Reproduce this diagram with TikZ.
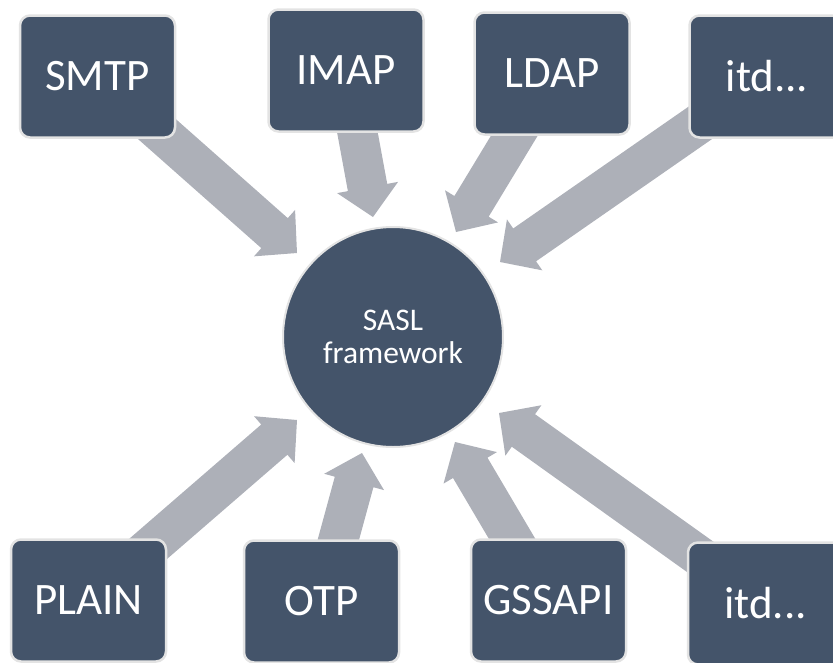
\documentclass[tikz,border=0pt]{standalone}
\usepackage{fontspec}
\setmainfont{Carlito}
\usetikzlibrary{calc}
\definecolor{boxfill}{HTML}{44546A}
\definecolor{boxline}{HTML}{E3E3E3}
\definecolor{arrowgray}{HTML}{ADB0B8}
\pgfdeclarelayer{bg}
\pgfsetlayers{bg,main}
\newcommand\blockarr[2]{%
  \path ($(#2)!30pt!(#1.center)$) coordinate (hb);
  \fill[arrowgray] ($(#1.center)!20pt!90:(#2)$) -- ($(hb)!20pt!90:(#2)$) -- ($(hb)!31pt!90:(#2)$) -- (#2)
     -- ($(hb)!31pt!-90:(#2)$) -- ($(hb)!20pt!-90:(#2)$) -- ($(#1.center)!20pt!-90:(#2)$) -- cycle;}
\tikzset{
  box/.style={rectangle, rounded corners=10pt, fill=boxfill, draw=boxline, line width=2.5pt,
    minimum width=155pt, minimum height=122pt, inner sep=0pt, text=white,
    font=\fontsize{45}{48}\selectfont},
  hub/.style={circle, minimum size=220pt, fill=boxfill, draw=boxline, line width=2pt,
    text=white, align=center, inner sep=0pt, font=\fontsize{31.5}{32.5}\selectfont}
}
\begin{document}
\begin{tikzpicture}[x=1pt,y=-1pt]
\useasboundingbox (0,0) rectangle (833,662);
\clip (0,0) rectangle (833,662);
\node[hub] (sasl) at (393,337) {SASL\\framework};
\node[box] (smtp) at (97.5,76.5) {SMTP};
\node[box] (imap) at (346,70.5) {IMAP};
\node[box] (ldap) at (552,73.5) {LDAP};
\node[box] (itda) at (767,76.5) {itd...};
\node[box] (plain) at (88.5,600.5) {PLAIN};
\node[box] (otp) at (321.5,601.5) {OTP};
\node[box] (gssapi) at (548.5,600.5) {GSSAPI};
\node[box] (itdb) at (765.5,603.5) {itd...};
\coordinate (tsmtp) at (297,253);
\coordinate (timap) at (373,217);
\coordinate (tldap) at (456,232);
\coordinate (titda) at (500,262);
\coordinate (tplain) at (297,420);
\coordinate (totp) at (362,453);
\coordinate (tgssapi) at (455,442);
\coordinate (titdb) at (499,413);
\begin{pgfonlayer}{bg}
\blockarr{smtp}{tsmtp}
\blockarr{imap}{timap}
\blockarr{ldap}{tldap}
\blockarr{itda}{titda}
\blockarr{plain}{tplain}
\blockarr{otp}{totp}
\blockarr{gssapi}{tgssapi}
\blockarr{itdb}{titdb}
\end{pgfonlayer}
\end{tikzpicture}
\end{document}
